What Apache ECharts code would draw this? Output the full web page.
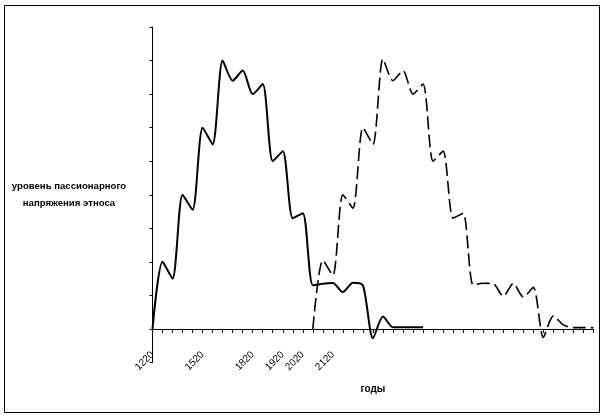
<!DOCTYPE html>
<html>
<head>
<meta charset="utf-8">
<script src="https://cdn.jsdelivr.net/npm/echarts@6/dist/echarts.min.js"></script>
<style>
html,body{margin:0;padding:0;background:#fff;}
#chart{width:605px;height:418px;}
</style>
</head>
<body>
<div id="chart"></div>
<script>
// category tick labels (only some categories carry a label)
var categories = ['1220','','','','','1520','','','','','1820','','','1920','','2020','','','2120','','','','','','','','','','','','','','','','','','','','','','','','','',''];
// solid line: first wave
var wave1 = [0,2.0,1.5,4.0,3.55,6.0,5.5,8.0,7.4,7.7,7.0,7.3,5.0,5.3,3.3,3.45,1.3,1.35,1.37,1.1,1.38,1.3,-0.28,0.37,0.05,0.05,0.05,0.05,null,null,null,null,null,null,null,null,null,null,null,null,null,null,null,null,null];
// dashed line: second wave
var wave2 = [null,null,null,null,null,null,null,null,null,null,null,null,null,null,null,null,0,2.05,1.6,4.0,3.6,6.0,5.5,8.05,7.4,7.7,7.0,7.3,5.0,5.3,3.3,3.45,1.31,1.36,1.35,0.97,1.36,0.95,1.24,-0.25,0.39,0.12,0.04,0.04,0.04];
var yTitle = 'уровень пассионарного\nнапряжения этноса';
var xTitle = 'годы';

var chart = echarts.init(document.getElementById('chart'), null, {renderer:'canvas'});
chart.setOption({
  animation:false,
  backgroundColor:'#fff',
  graphic:[{type:'rect', shape:{x:4.5,y:5.5,width:595,height:407}, style:{fill:'none', stroke:'#000', lineWidth:1}, silent:true}],
  grid:{left:152.5, right:11.6, top:27, bottom:55.5, containLabel:false, outerBoundsMode:'none'},
  xAxis:{
    type:'category', data:categories, boundaryGap:false,
    axisLine:{onZero:true, lineStyle:{color:'#000', width:1}},
    axisTick:{show:true, interval:0, length:4, lineStyle:{color:'#000'}},
    axisLabel:{interval:0, rotate:45, margin:-9.5, color:'#000', fontFamily:'Liberation Sans', fontSize:10},
    splitLine:{show:false},
    name:xTitle, nameLocation:'middle', nameGap:21.5,
    nameTextStyle:{color:'#000', fontFamily:'Liberation Sans', fontWeight:'bold', fontSize:10}
  },
  yAxis:{
    type:'value', min:-1, max:9, interval:1,
    axisLine:{show:true, lineStyle:{color:'#000', width:1}},
    axisTick:{show:true, length:3, lineStyle:{color:'#000'}},
    axisLabel:{show:false},
    splitLine:{show:false},
    name:yTitle, nameLocation:'middle', nameRotate:0, nameGap:83.5,
    nameTextStyle:{color:'#000', fontFamily:'Liberation Sans', fontWeight:'bold', fontSize:9.6, align:'center', lineHeight:17}
  },
  series:[
    {type:'line', data:wave1, smooth:0.25, symbol:'none', clip:false,
     lineStyle:{color:'#000', width:2, type:'solid'}},
    {type:'line', data:wave2, smooth:0.25, symbol:'none', clip:false,
     lineStyle:{color:'#000', width:1.6, type:[13,5]}}
  ]
});
</script>
</body>
</html>
